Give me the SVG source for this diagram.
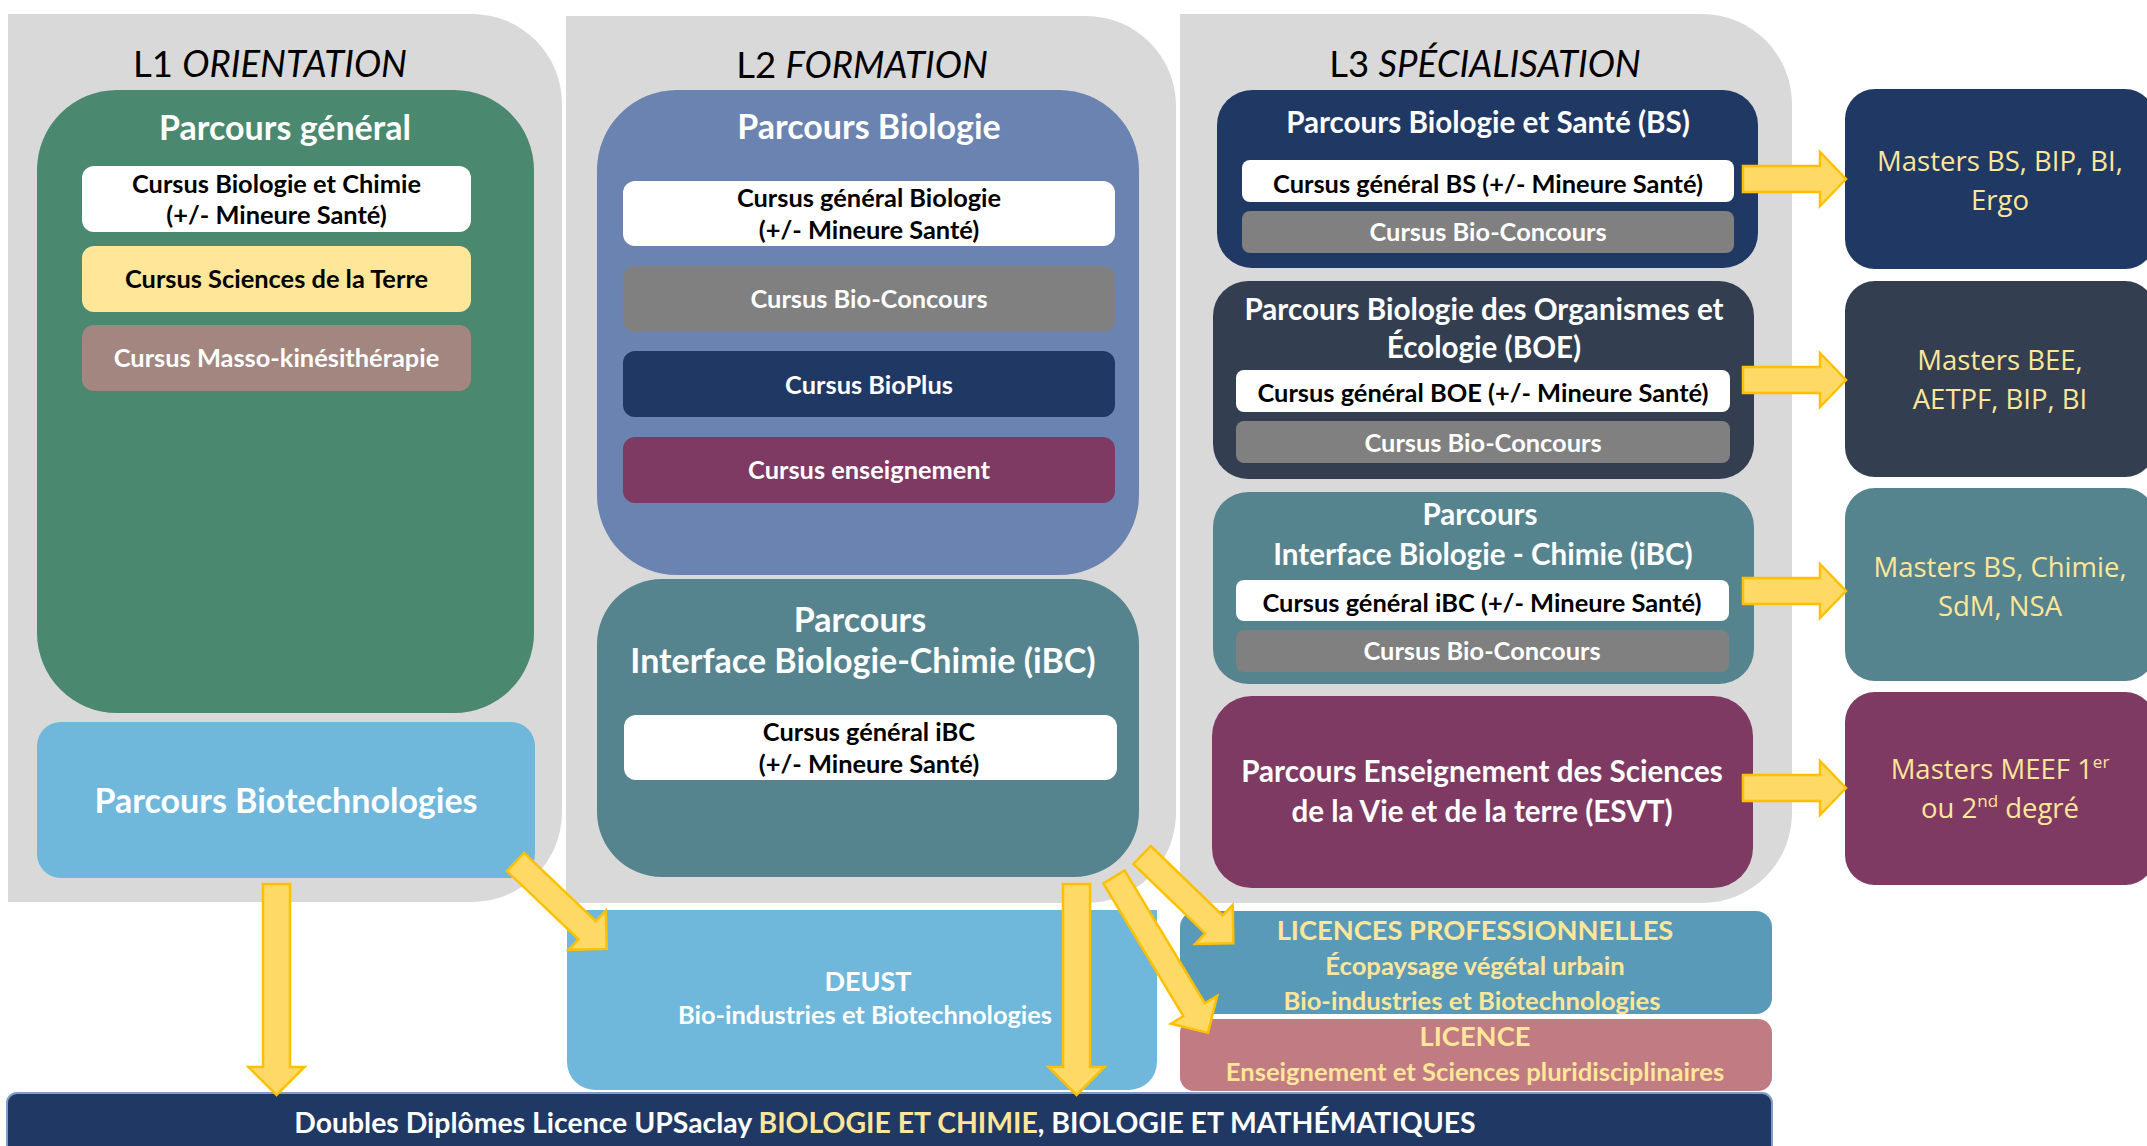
<svg xmlns="http://www.w3.org/2000/svg" width="2147" height="1146" viewBox="0 0 2147 1146">
<style>
.t{font-family:Lato,"Open Sans",sans-serif;text-anchor:middle}
.b{font-weight:700}
.w{fill:#fff}.k{fill:#000}.y{fill:#FFE699}
.hd{font-size:36.5px;fill:#000}
.p1{font-size:34px}
.p3{font-size:29.6px}
.s{font-size:25.4px}
.m{font-family:"Open Sans",Lato,sans-serif;font-size:27.5px;fill:#FFE699;text-anchor:middle}
.panel{fill:#D9D9D9}
.arrow{fill:#FFD966;stroke:#FFC000;stroke-width:2.5;stroke-linejoin:miter}
</style>
<defs>
<path id="harrow" d="M0,-13 H77 V-27 L103,0 L77,27 V13 H0 Z"/>
<path id="varrow" d="M-13.5,0 V183 H-28 L0,211 L28,183 H13.5 V0 Z"/>
</defs>
<rect width="2147" height="1146" fill="#fff"/>

<g id="panels">
<path class="panel" d="M8,14 H472 A90,90 0 0 1 562,104 V812 A90,90 0 0 1 472,902 H8 Z"/>
<path class="panel" d="M566,16 H1086 A90,90 0 0 1 1176,106 V813 A90,90 0 0 1 1086,903 H566 Z"/>
<path class="panel" d="M1180,14 H1702 A90,90 0 0 1 1792,104 V813 A90,90 0 0 1 1702,903 H1180 Z"/>
<text class="t hd" x="270" y="77">L1 <tspan font-style="italic">ORIENTATION</tspan></text>
<text class="t hd" x="862" y="78">L2 <tspan font-style="italic">FORMATION</tspan></text>
<text class="t hd" x="1485" y="77">L3 <tspan font-style="italic">SPÉCIALISATION</tspan></text>
</g>

<g id="l1-general">
<rect x="37" y="90" width="497" height="623" rx="80" fill="#4B8870"/>
<text class="t b w p1" x="285" y="140">Parcours général</text>
<rect x="82" y="166" width="389" height="66" rx="12" fill="#fff"/>
<text class="t b k s" x="276.5" y="193">Cursus Biologie et Chimie</text>
<text class="t b k s" x="276.5" y="224">(+/- Mineure Santé)</text>
<rect x="82" y="246" width="389" height="66" rx="12" fill="#FFE699"/>
<text class="t b k s" x="276.5" y="288">Cursus Sciences de la Terre</text>
<rect x="82" y="325" width="389" height="66" rx="12" fill="#A38680"/>
<text class="t b w s" x="276.5" y="367">Cursus Masso-kinésithérapie</text>
</g>

<g id="l1-biotech">
<rect x="37" y="722" width="498" height="156" rx="24" fill="#6FB8DC"/>
<text class="t b w p1" x="286" y="813">Parcours Biotechnologies</text>
</g>

<g id="l2-biologie">
<rect x="597" y="90" width="542" height="485" rx="80" fill="#6A83B1"/>
<text class="t b w p1" x="869" y="139">Parcours Biologie</text>
<rect x="623" y="181" width="492" height="65" rx="12" fill="#fff"/>
<text class="t b k s" x="869" y="207">Cursus général Biologie</text>
<text class="t b k s" x="869" y="239">(+/- Mineure Santé)</text>
<rect x="623" y="266" width="492" height="66" rx="12" fill="#808080"/>
<text class="t b w s" x="869" y="308">Cursus Bio-Concours</text>
<rect x="623" y="351" width="492" height="66" rx="12" fill="#203864"/>
<text class="t b w s" x="869" y="394">Cursus BioPlus</text>
<rect x="623" y="437" width="492" height="66" rx="12" fill="#7E3A62"/>
<text class="t b w s" x="869" y="479">Cursus enseignement</text>
</g>

<g id="l2-ibc">
<rect x="597" y="579" width="542" height="298" rx="65" fill="#56848E"/>
<text class="t b w p1" x="860" y="632">Parcours</text>
<text class="t b w p1" x="863" y="673">Interface Biologie-Chimie (iBC)</text>
<rect x="624" y="715" width="493" height="65" rx="12" fill="#fff"/>
<text class="t b k s" x="869" y="741">Cursus général iBC</text>
<text class="t b k s" x="869" y="773">(+/- Mineure Santé)</text>
</g>

<g id="l3-bs">
<rect x="1217" y="90" width="541" height="178" rx="35" fill="#203864"/>
<text class="t b w p3" x="1488" y="133">Parcours Biologie et Santé (BS)</text>
<rect x="1242" y="160" width="492" height="42" rx="8" fill="#fff"/>
<text class="t b k s" x="1488" y="193">Cursus général BS (+/- Mineure Santé)</text>
<rect x="1242" y="211" width="492" height="42" rx="8" fill="#808080"/>
<text class="t b w s" x="1488" y="241">Cursus Bio-Concours</text>
</g>

<g id="l3-boe">
<rect x="1213" y="281" width="541" height="198" rx="35" fill="#333F50"/>
<text class="t b w p3" x="1484" y="320">Parcours Biologie des Organismes et</text>
<text class="t b w p3" x="1484" y="358">Écologie (BOE)</text>
<rect x="1236" y="370" width="494" height="42" rx="8" fill="#fff"/>
<text class="t b k s" x="1483" y="402">Cursus général BOE (+/- Mineure Santé)</text>
<rect x="1236" y="421" width="494" height="42" rx="8" fill="#808080"/>
<text class="t b w s" x="1483" y="452">Cursus Bio-Concours</text>
</g>

<g id="l3-ibc">
<rect x="1213" y="492" width="541" height="192" rx="35" fill="#56848E"/>
<text class="t b w p3" x="1480" y="525">Parcours</text>
<text class="t b w p3" x="1483" y="565">Interface Biologie - Chimie (iBC)</text>
<rect x="1236" y="580" width="493" height="41" rx="8" fill="#fff"/>
<text class="t b k s" x="1482" y="612">Cursus général iBC (+/- Mineure Santé)</text>
<rect x="1236" y="630" width="493" height="42" rx="8" fill="#808080"/>
<text class="t b w s" x="1482" y="660">Cursus Bio-Concours</text>
</g>

<g id="l3-esvt">
<rect x="1212" y="696" width="541" height="192" rx="40" fill="#7E3A62"/>
<text class="t b w p3" x="1482" y="782">Parcours Enseignement des Sciences</text>
<text class="t b w p3" x="1482" y="822">de la Vie et de la terre (ESVT)</text>
</g>

<g id="masters-bs">
<rect x="1845" y="89" width="310" height="180" rx="30" fill="#203864"/>
<text class="m" x="2000" y="171">Masters BS, BIP, BI,</text>
<text class="m" x="2000" y="210">Ergo</text>
</g>
<g id="masters-boe">
<rect x="1845" y="281" width="310" height="196" rx="30" fill="#333F50"/>
<text class="m" x="2000" y="370">Masters BEE,</text>
<text class="m" x="2000" y="409">AETPF, BIP, BI</text>
</g>
<g id="masters-ibc">
<rect x="1845" y="488" width="310" height="193" rx="30" fill="#56848E"/>
<text class="m" x="2000" y="577">Masters BS, Chimie,</text>
<text class="m" x="2000" y="616">SdM, NSA</text>
</g>
<g id="masters-meef">
<rect x="1845" y="692" width="310" height="193" rx="30" fill="#7E3A62"/>
<text class="m" x="2000" y="779">Masters MEEF 1<tspan font-size="17" dy="-11">er</tspan></text>
<text class="m" x="2000" y="818">ou 2<tspan font-size="17" dy="-11">nd</tspan><tspan dy="11"> degré</tspan></text>
</g>

<g id="deust">
<path d="M567,910 H1157 V1062 A28,28 0 0 1 1129,1090 H595 A28,28 0 0 1 567,1062 Z" fill="#6FB8DC"/>
<text class="t b w" font-size="27" x="868" y="991">DEUST</text>
<text class="t b w" font-size="25.4" x="865" y="1024">Bio-industries et Biotechnologies</text>
</g>

<g id="licences-pro">
<rect x="1180" y="911" width="592" height="103" rx="16" fill="#5A9AB9"/>
<text class="t b y" font-size="27.3" x="1475" y="940">LICENCES PROFESSIONNELLES</text>
<text class="t b y" font-size="25.6" x="1475" y="975">Écopaysage végétal urbain</text>
<text class="t b y" font-size="25.6" x="1472" y="1010">Bio-industries et Biotechnologies</text>
</g>

<g id="licence">
<rect x="1180" y="1019" width="592" height="72" rx="14" fill="#C07B83"/>
<text class="t b y" font-size="27.3" x="1475" y="1046">LICENCE</text>
<text class="t b y" font-size="25.6" x="1475" y="1081">Enseignement et Sciences pluridisciplinaires</text>
</g>

<g id="doubles-diplomes">
<rect x="7" y="1093" width="1765" height="70" rx="10" fill="#203864" stroke="#7F9CCB" stroke-width="2"/>
<text class="t b w" font-size="28.4" x="885" y="1133">Doubles Diplômes Licence UPSaclay <tspan fill="#FFE699">BIOLOGIE ET CHIMIE</tspan>, BIOLOGIE ET MATHÉMATIQUES</text>
</g>

<g id="connectors">
<use href="#harrow" class="arrow" x="1743" y="179"/>
<use href="#harrow" class="arrow" x="1743" y="380"/>
<use href="#harrow" class="arrow" x="1743" y="591"/>
<use href="#harrow" class="arrow" x="1743" y="788"/>
<use href="#varrow" class="arrow" x="276.5" y="884"/>
<use href="#varrow" class="arrow" x="1076.5" y="884"/>
<path class="arrow" transform="translate(515.5,862) rotate(43.6)" d="M0,-12.5 H99 V-27 L126,0 L99,27 V12.5 H0 Z"/>
<path class="arrow" transform="translate(1142,855) rotate(44)" d="M0,-12.5 H100 V-27 L127,0 L100,27 V12.5 H0 Z"/>
<path class="arrow" transform="translate(1114,877) rotate(58.9)" d="M0,-12.5 H155 V-27 L182,0 L155,27 V12.5 H0 Z"/>
</g>
</svg>
